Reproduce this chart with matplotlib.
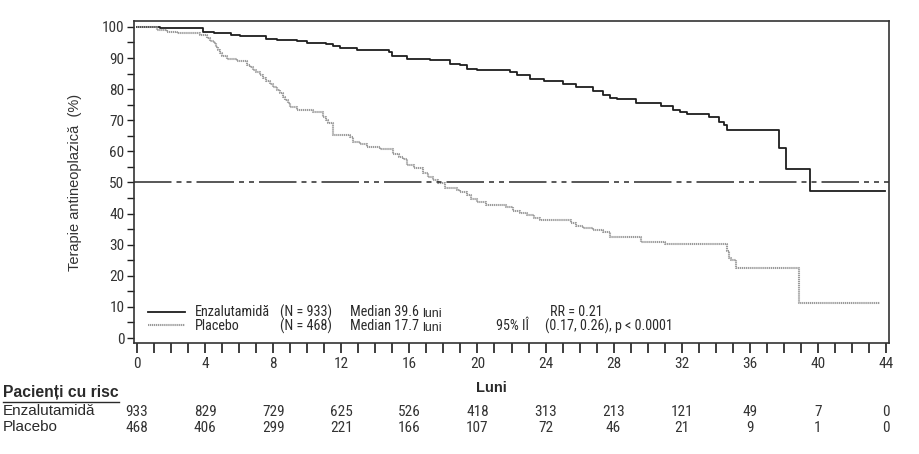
import matplotlib
matplotlib.use('Agg')
import matplotlib.pyplot as plt
from matplotlib.lines import Line2D

COND = ['Roboto Condensed', 'Liberation Sans', 'DejaVu Sans']
REG = ['Liberation Sans', 'DejaVu Sans']
plt.rcParams['font.family'] = COND
plt.rcParams['lines.scale_dashes'] = False

# Kaplan-Meier steps (months, % without antineoplastic therapy)
enz_t = [0, 1.35, 3.85, 4.5, 5.5, 6.05, 7.6, 8.2, 9.4, 10.0, 11.1, 11.5, 11.9, 12.9,
         14.8, 15.0, 15.85, 17.2, 18.4, 19.0, 19.4, 20.0, 21.9, 22.3, 23.1, 23.9, 25.0,
         25.8, 26.8, 27.4, 27.8, 28.2, 29.3, 30.8, 31.5, 31.9, 32.3, 33.6, 34.2, 34.5,
         34.65, 37.7, 38.1, 39.55, 43.95]
enz_s = [100, 99.5, 98.5, 98.0, 97.5, 97.0, 96.2, 95.8, 95.4, 94.8, 94.4, 93.9, 93.2, 92.6,
         91.8, 90.8, 89.8, 89.4, 88.2, 87.6, 86.4, 86.0, 85.6, 84.5, 83.4, 82.5, 81.7,
         80.6, 79.5, 78.1, 77.3, 76.7, 75.5, 74.6, 73.4, 72.7, 72.0, 70.9, 69.4, 68.6,
         66.8, 61.1, 54.2, 47.4, 47.4]

plac_t = [0, 1.15, 1.75, 2.33, 3.3, 3.7, 4.1, 4.3, 4.5, 4.65, 4.78, 4.9, 4.98, 5.27, 5.86,
          6.45, 6.65, 6.83, 7.0, 7.2, 7.4, 7.6, 7.8, 8.0, 8.2, 8.4, 8.55, 8.7, 8.85, 9.0,
          9.4, 10.35, 10.95, 11.1, 11.2, 11.5, 12.5, 12.7, 13.1, 13.5, 14.3, 15.06, 15.4,
          15.65, 15.85, 16.3, 16.8, 17.1, 17.4, 17.7, 18.1, 18.8, 19.0, 19.4, 19.6, 19.96,
          20.5, 21.7, 22.1, 22.5, 22.9, 23.3, 23.7, 25.5, 25.8, 26.2, 26.8, 27.4, 27.8,
          29.6, 31.0, 34.65, 34.75, 34.9, 35.2, 38.9, 43.65]
plac_s = [100, 99.0, 98.5, 98.2, 97.9, 97.3, 96.4, 95.6, 94.8, 93.6, 92.6, 91.5, 90.5, 89.6,
          88.9, 87.8, 87.0, 86.2, 85.4, 84.6, 83.5, 82.5, 81.5, 80.6, 79.6, 78.7, 77.6,
          76.5, 75.4, 74.4, 73.3, 72.8, 71.2, 70.2, 69.0, 65.3, 64.7, 63.1, 62.3, 61.5,
          60.7, 59.2, 58.3, 57.5, 55.6, 54.6, 52.9, 51.8, 50.8, 49.8, 48.3, 47.6, 47.0,
          46.0, 44.7, 43.6, 42.8, 42.0, 40.8, 40.1, 39.5, 38.7, 37.9, 37.1, 36.0, 35.3,
          34.7, 34.2, 32.6, 31.0, 30.2, 28.0, 25.6, 25.1, 22.4, 11.4, 11.4]

risk_months = [0, 4, 8, 12, 16, 20, 24, 28, 32, 36, 40, 44]
risk_enz = [933, 829, 729, 625, 526, 418, 313, 213, 121, 49, 7, 0]
risk_plac = [468, 406, 299, 221, 166, 107, 72, 46, 21, 9, 1, 0]

W, H = 919, 454
fig = plt.figure(figsize=(W / 100, H / 100), dpi=100)
ax = fig.add_axes([134 / W, 1 - 343 / H, (889 - 134) / W, (343 - 21) / H])

dark = '#1e1e1e'
ax.step(enz_t, enz_s, where='post', color=dark, lw=1.3)
ax.step(plac_t, plac_s, where='post', color='#9a9a9a', lw=1.5, dashes=(0.9, 0.5))
ax.axhline(50, color='#2a2a2a', lw=1.1, dashes=(27, 3.6, 3.6, 3.6, 3.6, 3.6))

ax.set_xlim(-0.18, 44.18)
ax.set_ylim(-1.6, 101.9)
ax.set_xticks(range(0, 45, 4))
ax.set_xticks(range(0, 45), minor=True)
ax.set_yticks(range(0, 101, 10))
ax.set_yticks(range(5, 100, 10), minor=True)
ax.tick_params(axis='x', which='both', length=7, width=1.2, color=dark, labelsize=11, pad=3)
ax.tick_params(axis='y', which='both', length=5, width=1.0, color=dark, labelsize=11, pad=2)
for lab in ax.get_xticklabels() + ax.get_yticklabels():
    lab.set_color('#333333')
for sp in ax.spines.values():
    sp.set_color('#333333')
    sp.set_linewidth(1.2)

ax.set_ylabel('Terapie antineoplazică  (%)', fontsize=10.5, color='#333333', labelpad=14,
              family=REG)

renderer = fig.canvas.get_renderer()


def ft(x, y, s, **kw):
    kw.setdefault('va', 'center')
    kw.setdefault('color', '#2a2a2a')
    return fig.text(x / W, 1 - y / H, s, **kw)


def right_px(t):
    return t.get_window_extent(renderer).x1


# legend inside the plot
fig.add_artist(Line2D([148 / W, 185 / W], [1 - 312 / H] * 2, color=dark, lw=1.3))
fig.add_artist(Line2D([148 / W, 185 / W], [1 - 325 / H] * 2, color='#9a9a9a', lw=1.5,
                      dashes=(0.9, 0.5)))
fs = 10.2
ft(195, 312, 'Enzalutamidă', fontsize=fs)
ft(195, 326, 'Placebo', fontsize=fs)
ft(280, 312, '(N = 933)', fontsize=fs)
ft(280, 326, '(N = 468)', fontsize=fs)
m1 = ft(350, 312, 'Median 39.6', fontsize=fs)
m2 = ft(350, 326, 'Median 17.7', fontsize=fs)
ft(right_px(m1) + 3, 314, 'luni', fontsize=9, family=REG)
ft(right_px(m2) + 3, 328, 'luni', fontsize=9, family=REG)
ft(550, 312, 'RR = 0.21', fontsize=fs)
ft(496, 326, '95% IÎ', fontsize=fs)
ft(545, 326, '(0.17, 0.26), p < 0.0001', fontsize=fs)

ft(491, 388, 'Luni', fontsize=10.5, fontweight='bold', ha='center', family=REG)

# patients at risk table
hdr = ft(3, 393, 'Pacienți cu risc', fontsize=11.3, fontweight='bold', family=REG)
fig.add_artist(Line2D([3 / W, right_px(hdr) / W], [1 - 402 / H] * 2, color='#2a2a2a', lw=1.0))
ft(3, 411, 'Enzalutamidă', fontsize=11, family=REG)
ft(3, 427, 'Placebo', fontsize=11, family=REG)
for m, a, b in zip(risk_months, risk_enz, risk_plac):
    xp = ax.transData.transform((m, 0))[0]
    xf = fig.transFigure.inverted().transform((xp, 0))[0]
    fig.text(xf, 1 - 412 / H, str(a), ha='center', va='center', fontsize=11, color='#333333')
    fig.text(xf, 1 - 428 / H, str(b), ha='center', va='center', fontsize=11, color='#333333')

fig.savefig('out.png', dpi=100)
